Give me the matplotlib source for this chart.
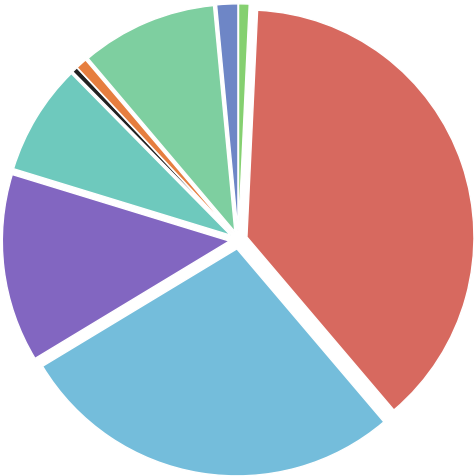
import matplotlib
matplotlib.use("Agg")
import matplotlib.pyplot as plt

# slice values, clockwise from the top
labels = ["I", "A", "B", "C", "D", "E", "F", "G", "H"]
values = [0.75, 38.1, 27.6, 13.4, 7.9, 0.4, 0.8, 9.7, 1.5]
colors = ["#85d070", "#d7695f", "#74bddb", "#8266c1", "#6ec9bd",
          "#222222", "#e67e3f", "#7ecfa0", "#6e86c6"]
explode = [0.04] * len(values)

fig = plt.figure(figsize=(4.76, 4.76), dpi=100)
ax = fig.add_axes([0, 0, 1, 1])
ax.pie(values, colors=colors, explode=explode, startangle=90,
       counterclock=False, radius=1.0,
       wedgeprops=dict(edgecolor="white", linewidth=1.0))
ax.set_xlim(-1.050, 1.047)
ax.set_ylim(-1.040, 1.057)
ax.axis("off")
fig.savefig("out.png", dpi=100)
